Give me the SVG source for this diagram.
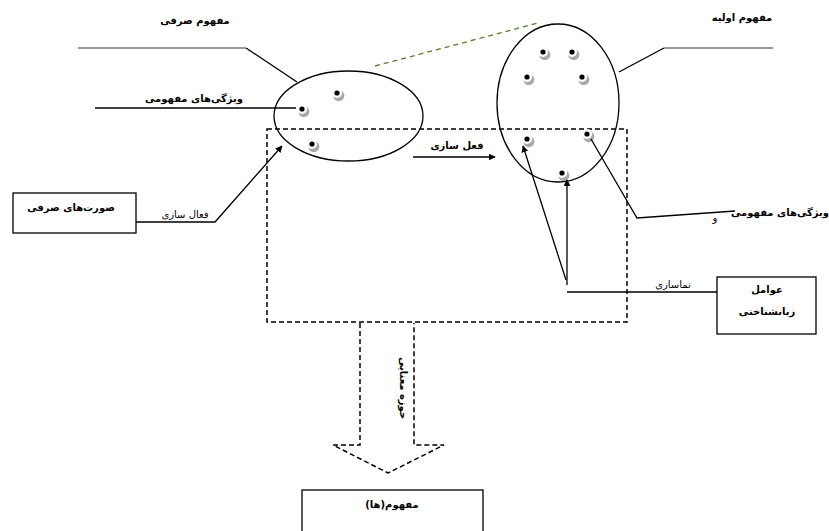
<svg xmlns="http://www.w3.org/2000/svg" width="829" height="531" viewBox="0 0 829 531">
<defs>
<marker id="ah" viewBox="0 0 10 10" refX="9" refY="5" markerWidth="7" markerHeight="7" markerUnits="userSpaceOnUse" orient="auto"><path d="M0,0 L10,5 L0,10 z" fill="#000"/></marker>
<g id="dot"><circle cx="1.8" cy="2.6" r="5.6" fill="#aaa"/><circle cx="0" cy="0" r="5" fill="#fff"/><circle cx="0" cy="0" r="2.6" fill="#000"/></g>
</defs>
<style>
.t{font-family:"DejaVu Sans",sans-serif;font-weight:bold;font-size:10px;fill:#000;direction:rtl;text-anchor:middle}
.n{font-weight:normal}
.ln{stroke:#000;stroke-width:1.3;fill:none}
.gr{stroke:#777;stroke-width:1.5;fill:none}
.ds{stroke:#000;stroke-width:1.5;fill:none;stroke-dasharray:5,3}
.box{fill:#fff;stroke:#000;stroke-width:1.3}
.ell{fill:none;stroke:#000;stroke-width:1.3}
</style>
<rect width="829" height="531" fill="#fff"/>
<g id="field">
<rect x="267" y="129" width="360" height="193" class="ds"/>
<path d="M360,323 V445 H333 L388,473 L444,445 H414 V323" class="ds"/>
<text class="t" font-size="13" transform="translate(400,388) rotate(90)">حوزه معنایی</text>
</g>
<g id="morph-concept">
<ellipse cx="348.5" cy="116" rx="74.5" ry="45" class="ell"/>
<use href="#dot" x="337" y="93"/><use href="#dot" x="302" y="109"/><use href="#dot" x="312" y="144"/>
<text class="t" x="195" y="24" font-size="9.5">مفهوم صرفی</text>
</g>
<g id="primary-concept">
<ellipse cx="558" cy="103" rx="61" ry="79" class="ell"/>
<use href="#dot" x="543" y="52"/><use href="#dot" x="572" y="52"/><use href="#dot" x="527" y="77"/><use href="#dot" x="582" y="77"/>
<use href="#dot" x="527" y="139"/><use href="#dot" x="587" y="134"/><use href="#dot" x="562" y="173"/>
<text class="t" x="742" y="21" font-size="9.5">مفهوم اولیه</text>
</g>
<g id="morph-forms">
<rect x="13" y="193" width="123" height="40" class="box"/>
<text class="t" x="71" y="211" font-size="11">صورت‌های صرفی</text>
</g>
<g id="ling-factors">
<rect x="717" y="277" width="99" height="57" class="box"/>
<text class="t" x="767" y="293">عوامل</text>
<text class="t" x="767" y="315">زبانشناختی</text>
</g>
<g id="concepts">
<rect x="302" y="490" width="181" height="50" class="box"/>
<text class="t" x="392" y="508">مفهوم(ها)</text>
</g>
<g id="connectors">
<path d="M78,48 H246" class="gr"/>
<path d="M246,48 L297,82" class="ln"/>
<path d="M375,66 L538,23" stroke="#5a7a2a" stroke-width="1.3" stroke-dasharray="5,4" fill="none"/>
<path d="M95,108 H296" class="ln" stroke-width="1.6"/>
<text class="t" x="194" y="102" font-size="9">ویژگی‌های مفهومی</text>
<path d="M619,72 L664,48" class="ln"/>
<path d="M664,48 H773" class="gr"/>
<path d="M413,157 H495" class="ln" stroke-width="1.5" marker-end="url(#ah)"/>
<text class="t" x="457" y="149">فعل سازی</text>
<path d="M136,222 H215 L282,146" class="ln" stroke-width="1.5" marker-end="url(#ah)"/>
<text class="t n" x="185" y="218">فعال سازی</text>
<path d="M567,285 V180" class="ln" stroke-width="1.5" marker-end="url(#ah)"/>
<path d="M566,280 L523,146" class="ln" stroke-width="1.3" marker-end="url(#ah)"/>
<path d="M567,292 H717" class="ln" stroke-width="1.5"/>
<text class="t n" x="673" y="288">نماسازی</text>
<path d="M591,139 L637,218 L735,211" class="ln"/>
<text class="t" x="780" y="216" font-size="9">ویژگی‌های مفهومی</text>
<text class="t n" x="715" y="221" font-size="9">و</text>
</g>
</svg>
